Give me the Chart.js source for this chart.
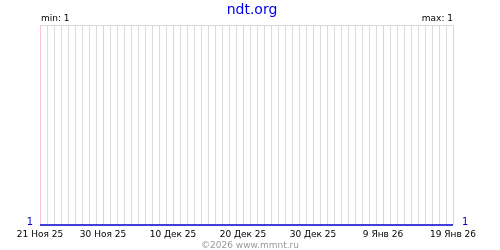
<!DOCTYPE html>
<html>
<head>
<meta charset="utf-8">
<script src="https://cdn.jsdelivr.net/npm/chart.js"></script>
<style>
  body { margin: 0; background: #fff; }
</style>
</head>
<body>
<canvas id="myChart" width="500" height="250"></canvas>
<script>

	// one category per day
	var days = [
		"21 Ноя 25", "22 Ноя 25", "23 Ноя 25", "24 Ноя 25", "25 Ноя 25", "26 Ноя 25", "27 Ноя 25", "28 Ноя 25", "29 Ноя 25", "30 Ноя 25",
		"1 Дек 25", "2 Дек 25", "3 Дек 25", "4 Дек 25", "5 Дек 25", "6 Дек 25", "7 Дек 25", "8 Дек 25", "9 Дек 25", "10 Дек 25",
		"11 Дек 25", "12 Дек 25", "13 Дек 25", "14 Дек 25", "15 Дек 25", "16 Дек 25", "17 Дек 25", "18 Дек 25", "19 Дек 25", "20 Дек 25",
		"21 Дек 25", "22 Дек 25", "23 Дек 25", "24 Дек 25", "25 Дек 25", "26 Дек 25", "27 Дек 25", "28 Дек 25", "29 Дек 25", "30 Дек 25",
		"31 Дек 25", "1 Янв 26", "2 Янв 26", "3 Янв 26", "4 Янв 26", "5 Янв 26", "6 Янв 26", "7 Янв 26", "8 Янв 26", "9 Янв 26",
		"10 Янв 26", "11 Янв 26", "12 Янв 26", "13 Янв 26", "14 Янв 26", "15 Янв 26", "16 Янв 26", "17 Янв 26", "18 Янв 26", "19 Янв 26"
	];

	var values = [
		1, 1, 1, 1, 1, 1, 1, 1, 1, 1,
		1, 1, 1, 1, 1, 1, 1, 1, 1, 1,
		1, 1, 1, 1, 1, 1, 1, 1, 1, 1,
		1, 1, 1, 1, 1, 1, 1, 1, 1, 1,
		1, 1, 1, 1, 1, 1, 1, 1, 1, 1,
		1, 1, 1, 1, 1, 1, 1, 1, 1, 1
	];

	var tickLabels = ["21 Ноя 25", "30 Ноя 25", "10 Дек 25", "20 Дек 25", "30 Дек 25", "9 Янв 26", "19 Янв 26"];

	var title = "ndt.org";
	var footer = "\u00a92026 www.mmnt.ru";

	var minVal = Math.min.apply(null, values);
	var maxVal = Math.max.apply(null, values);

	var FONT = "DejaVu Sans";

	// extra text: title, min/max, end values, footer
	var decor = {
		id: 'decor',
		beforeDatasetsDraw: function(chart) {
			var c = chart.ctx, a = chart.chartArea;
			c.save();
			c.strokeStyle = '#d8d8d8';
			c.lineWidth = 1;
			c.beginPath();
			c.moveTo(a.left, a.top + 0.5);
			c.lineTo(a.right + 1, a.top + 0.5);
			c.stroke();
			c.restore();
		},
		afterDraw: function(chart) {
			var c = chart.ctx, a = chart.chartArea;
			var y = chart.scales.y;
			c.save();
			c.textBaseline = 'alphabetic';

			c.fillStyle = '#0000ee';
			c.font = '14px "' + FONT + '"';
			c.textAlign = 'center';
			c.fillText(title, 252, 14);

			c.fillStyle = '#000';
			c.font = '9px "' + FONT + '"';
			c.textAlign = 'left';
			c.fillText('min: ' + minVal, a.left + 1, 21);
			c.textAlign = 'right';
			c.fillText('max: ' + maxVal, a.right, 21);

			var yv = y.getPixelForValue(values[0]);
			c.fillStyle = '#0000cc';
			c.font = '10px "' + FONT + '"';
			c.textAlign = 'right';
			c.fillText(values[0], a.left - 7, yv);
			c.textAlign = 'left';
			c.fillText(values[values.length - 1], a.right + 9, yv);

			c.fillStyle = '#9a9a9a';
			c.font = '9px "' + FONT + '"';
			c.textAlign = 'center';
			c.fillText(footer, 250, 248);
			c.restore();
		}
	};

	var ctx = document.getElementById('myChart').getContext('2d');
	var chart = new Chart(ctx, {
	    type: 'line',
	    data: {
	        labels: days,
	        datasets: [{
	            data: values,
	            borderColor: '#0000cc',
	            borderWidth: 1.5,
	            pointRadius: 0,
	            tension: 0,
	            fill: false,
	            clip: false
	        }]
	    },
	    options: {
	        responsive: false,
	        animation: false,
	        layout: { padding: { left: 40, right: 47, top: 25, bottom: 10 } },
	        plugins: {
	            legend: { display: false },
	            tooltip: { enabled: false }
	        },
	        scales: {
	            x: {
	                offset: false,
	                border: { display: false },
	                afterFit: function(s) { s.height = 15; },
	                grid: {
	                    drawTicks: false,
	                    lineWidth: 1,
	                    color: function(c) {
	                        return tickLabels.indexOf(days[c.index]) >= 0 ? '#ffc4cc' : '#dcdcdc';
	                    }
	                },
	                ticks: {
	                    autoSkip: false,
	                    maxRotation: 0,
	                    padding: 4,
	                    color: '#000',
	                    font: { family: FONT, size: 9 },
	                    callback: function(v, i) {
	                        return tickLabels.indexOf(days[i]) >= 0 ? days[i] : '';
	                    }
	                }
	            },
	            y: {
	                display: false,
	                min: minVal,
	                max: maxVal + 1
	            }
	        }
	    },
	    plugins: [decor]
	});

</script>
</body>
</html>
